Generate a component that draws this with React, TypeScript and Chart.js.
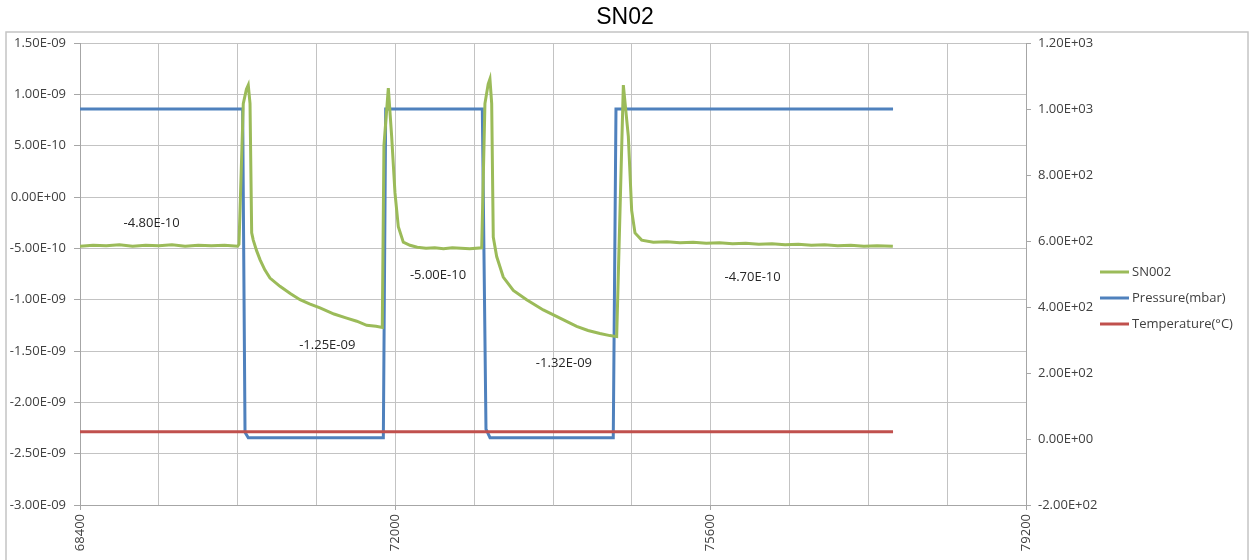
import React, { useEffect, useRef } from 'react';
import { Chart, registerables } from 'chart.js';

Chart.register(...registerables);

const chartTitle = 'SN02';
const seriesNames = ['SN002', 'Pressure(mbar)', 'Temperature(°C)'];
const seriesColors = ['#9bbb59', '#4f81bd', '#c0504d'];

// time axis (s)
const xMin = 68400;
const xMax = 79200;
const xGridStep = 900;
const xLabelStep = 3600;

// left axis, SN002 in units of 1E-10
const leftMin = -30;
const leftMax = 15;
const leftStep = 5;
// right axis, pressure / temperature
const rightMin = -200;
const rightMax = 1200;
const rightStep = 200;

// SN002 signal (value in units of 1E-10)
const snTime = [
  68400, 68550, 68700, 68850, 69000, 69150, 69300, 69450, 69600, 69750, 69900, 70050, 70200,
  70215, 70264, 70300, 70321, 70341, 70360, 70378, 70415, 70455, 70510, 70569, 70683, 70800,
  70912, 71020, 71140, 71300, 71445, 71560, 71673, 71780, 71851,
  71870, 71920, 71958, 71996, 72034, 72091, 72167, 72250, 72350, 72450, 72550, 72650, 72750,
  72850, 72986,
  73023, 73060, 73080, 73100, 73118, 73157, 73232, 73347, 73499, 73689, 73880, 74070, 74200,
  74336, 74450, 74527,
  74603, 74660, 74698, 74736, 74812, 74945, 75100, 75250, 75400, 75550, 75700, 75850, 76000,
  76150, 76300, 76450, 76600, 76750, 76900, 77050, 77200, 77350, 77500, 77680,
];
const snValue = [
  -4.8, -4.7, -4.75, -4.65, -4.8, -4.7, -4.75, -4.65, -4.8, -4.7, -4.75, -4.7, -4.8,
  -4.6, 9.1, 10.5, 10.9, 9.1, -3.5, -4.2, -5.2, -6.1, -7.1, -7.9, -8.7, -9.4,
  -10.0, -10.4, -10.8, -11.4, -11.8, -12.1, -12.5, -12.6, -12.7,
  5.0, 10.6, 5.9, 0.4, -2.9, -4.4, -4.7, -4.9, -5.0, -4.95, -5.05, -4.95, -5.0,
  -5.05, -4.95,
  9.1, 11.0, 11.5, 9.1, -3.9, -5.8, -7.8, -9.1, -10.0, -11.0, -11.8, -12.6, -13.0,
  -13.3, -13.5, -13.6,
  10.9, 5.9, -1.3, -3.5, -4.2, -4.4, -4.35, -4.45, -4.4, -4.5, -4.45, -4.55, -4.5,
  -4.6, -4.55, -4.65, -4.6, -4.7, -4.65, -4.75, -4.7, -4.8, -4.75, -4.8,
];

const pressureTime = [68400, 70257, 70284, 70321, 71863, 71890, 72993, 73035, 73081, 74488, 74519, 77682];
const pressureValue = [1000, 1000, 20, 4, 4, 1000, 1000, 30, 4, 4, 1000, 1000];

const tempTime = [68400, 77682];
const tempValue = [22, 22];

// value notes written on the plot (position in data units, value in 1E-10)
const noteText = ['-4.80E-10', '-1.25E-09', '-5.00E-10', '-1.32E-09', '-4.70E-10'];
const noteTime = [69218, 71223, 72487, 73925, 76079];
const noteValue = [-2.56, -14.4, -7.6, -16.2, -7.86];

const FONT = '"Open Sans", "Liberation Sans", sans-serif';

function fmtExp(v: number): string {
  const s = v.toExponential(2);
  const [m, e] = s.split('e');
  const sign = e[0] === '-' ? '-' : '+';
  const digits = e.replace(/[+-]/, '').padStart(2, '0');
  return m + 'E' + sign + digits;
}

function pairs(xs: number[], ys: number[]) {
  return xs.map((x, i) => ({ x, y: ys[i] }));
}

const decorPlugin = {
  id: 'decor',
  afterDraw(chart: any) {
    const ctx = chart.ctx;
    ctx.save();
    // frame
    ctx.strokeStyle = '#c4c4c4';
    ctx.lineWidth = 1.5;
    ctx.strokeRect(6, 32, 1242, 560);
    // title
    ctx.fillStyle = '#000000';
    ctx.font = '23px "Liberation Sans", Arial, sans-serif';
    ctx.textAlign = 'center';
    ctx.textBaseline = 'middle';
    ctx.fillText(chartTitle, 625, 18);
    // notes
    const xs = chart.scales.x;
    const ys = chart.scales.yL;
    ctx.font = '13px ' + FONT;
    ctx.fillStyle = '#262626';
    noteText.forEach((t, i) => {
      ctx.fillText(t, xs.getPixelForValue(noteTime[i]), ys.getPixelForValue(noteValue[i]));
    });
    // legend
    ctx.textAlign = 'left';
    ctx.font = '13px ' + FONT;
    seriesNames.forEach((name, i) => {
      const y = 272 + i * 26;
      ctx.strokeStyle = seriesColors[i];
      ctx.lineWidth = 3;
      ctx.beginPath();
      ctx.moveTo(1100, y);
      ctx.lineTo(1129, y);
      ctx.stroke();
      ctx.fillStyle = '#404040';
      ctx.fillText(name, 1132, y);
    });
    ctx.restore();
  },
};

export default function App() {
  const ref = useRef<HTMLCanvasElement | null>(null);

  useEffect(() => {
    if (!ref.current) return;
    const gridColor = '#c3c3c3';
    const axisColor = '#a6a6a6';
    const tickFont = { family: FONT, size: 13 };
    const chart = new Chart(ref.current, {
      type: 'line',
      data: {
        datasets: [
          {
            label: seriesNames[0],
            data: pairs(snTime, snValue),
            borderColor: seriesColors[0],
            borderWidth: 3,
            pointRadius: 0,
            yAxisID: 'yL',
            order: 0,
          },
          {
            label: seriesNames[1],
            data: pairs(pressureTime, pressureValue),
            borderColor: seriesColors[1],
            borderWidth: 3,
            pointRadius: 0,
            yAxisID: 'yR',
            order: 2,
          },
          {
            label: seriesNames[2],
            data: pairs(tempTime, tempValue),
            borderColor: seriesColors[2],
            borderWidth: 3,
            pointRadius: 0,
            yAxisID: 'yR',
            order: 1,
          },
        ],
      },
      options: {
        responsive: false,
        animation: false,
        layout: { padding: { top: 43, left: 0, right: 0, bottom: 0 } },
        plugins: {
          legend: { display: false },
          title: { display: false },
          tooltip: { enabled: false },
        },
        scales: {
          x: {
            type: 'linear',
            min: xMin,
            max: xMax,
            afterFit: (s: any) => {
              s.height = 55;
            },
            ticks: {
              stepSize: xGridStep,
              autoSkip: false,
              minRotation: 90,
              maxRotation: 90,
              padding: 4,
              color: '#404040',
              font: tickFont,
              callback: (v: any) => (Number(v) % xLabelStep === 0 ? String(v) : ''),
            },
            grid: {
              color: gridColor,
              tickLength: 5,
              tickColor: (c: any) =>
                c.tick && c.tick.value % xLabelStep === 0 ? axisColor : 'rgba(0,0,0,0)',
            },
            border: { color: axisColor },
          },
          yL: {
            type: 'linear',
            position: 'left',
            min: leftMin,
            max: leftMax,
            afterFit: (s: any) => {
              s.width = 80;
            },
            ticks: {
              stepSize: leftStep,
              padding: 8,
              color: '#404040',
              font: tickFont,
              callback: (v: any) => fmtExp(Number(v) * 1e-10),
            },
            grid: { color: gridColor, tickLength: 6, tickColor: axisColor },
            border: { color: axisColor },
          },
          yR: {
            type: 'linear',
            position: 'right',
            min: rightMin,
            max: rightMax,
            afterFit: (s: any) => {
              s.width = 224;
            },
            ticks: {
              stepSize: rightStep,
              padding: 7,
              color: '#404040',
              font: tickFont,
              callback: (v: any) => fmtExp(Number(v)),
            },
            grid: { drawOnChartArea: false, tickLength: 5, color: axisColor },
            border: { color: axisColor },
          },
        },
      },
      plugins: [decorPlugin],
    } as any);
    return () => chart.destroy();
  }, []);

  return (
    <div style={{ position: 'fixed', left: 0, top: 0, width: 1250, height: 560, background: '#ffffff' }}>
      <canvas ref={ref} width={1250} height={560} style={{ display: 'block' }} />
    </div>
  );
}
